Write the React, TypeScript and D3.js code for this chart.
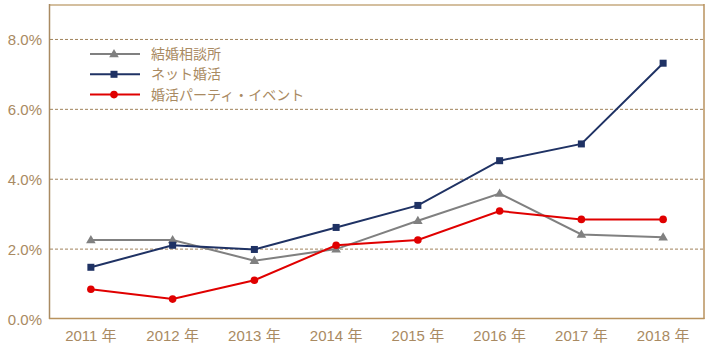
import React from "react";
import * as d3 from "d3";

const years = ["2011 年", "2012 年", "2013 年", "2014 年", "2015 年", "2016 年", "2017 年", "2018 年"];
const seriesNames = ["結婚相談所", "ネット婚活", "婚活パーティ・イベント"];
const soudansho = [2.26, 2.26, 1.67, 2.0, 2.81, 3.59, 2.42, 2.34];
const netKonkatsu = [1.48, 2.11, 1.99, 2.62, 3.25, 4.53, 5.01, 7.32];
const party = [0.85, 0.57, 1.11, 2.11, 2.26, 3.09, 2.85, 2.85];
const yTicks = [0, 2, 4, 6, 8];

const colors = ["#808080", "#1f3264", "#e00000"];
const markers = ["triangle", "square", "circle"];
const textColor = "#a98a62";
const font = "'Liberation Sans', Arial, 'Noto Sans CJK JP', sans-serif";

function Marker({ type, x, y, color }: { type: string; x: number; y: number; color: string }) {
  if (type === "square") return <rect x={x - 3.5} y={y - 3.5} width={7} height={7} fill={color} />;
  if (type === "circle") return <circle cx={x} cy={y} r={3.8} fill={color} />;
  const sym = d3.symbol(d3.symbolTriangle, 40)();
  return <path d={sym as string} transform={`translate(${x},${y + 0.5})`} fill={color} />;
}

export default function App() {
  const W = 710, H = 350;
  const left = 50, right = 704, top = 4.5, bottom = 319;
  const x = d3.scaleBand().domain(years).range([left, right]);
  const y = d3.scaleLinear().domain([0, 9]).range([bottom, top]);
  const data = [soudansho, netKonkatsu, party];
  const line = d3.line<number>().x((_, i) => (x(years[i]) as number) + x.bandwidth() / 2).y((d) => y(d));
  return (
    <svg width={W} height={H} style={{ position: "absolute", left: 0, top: 0 }} fontFamily={font}>
      {yTicks.filter((t) => t > 0).map((t) => (
        <line key={t} x1={left} x2={right} y1={y(t)} y2={y(t)} stroke="#a0825a" strokeWidth={1} strokeDasharray="3,2" />
      ))}
      <line x1={left} x2={right} y1={5} y2={5} stroke="#d4bf9f" strokeWidth={2} />
      <line x1={left - 0.5} x2={left - 0.5} y1={4} y2={bottom} stroke="#a98a62" strokeWidth={1.5} />
      <line x1={right} x2={right} y1={4} y2={bottom} stroke="#b8925e" strokeWidth={1.5} />
      <line x1={left - 1} x2={right + 0.5} y1={bottom - 0.5} y2={bottom - 0.5} stroke="#b8925e" strokeWidth={1.5} />
      {yTicks.map((t) => (
        <text key={t} x={42} y={y(t) + 0.5} dy="0.35em" textAnchor="end" fontSize={15} fill={textColor}>
          {t.toFixed(1)}%
        </text>
      ))}
      {years.map((yr) => (
        <text key={yr} x={(x(yr) as number) + x.bandwidth() / 2} y={341} textAnchor="middle" fontSize={15} fill={textColor}>
          {yr}
        </text>
      ))}
      {data.map((s, si) => (
        <g key={si}>
          <path d={line(s) as string} fill="none" stroke={colors[si]} strokeWidth={2} />
          {s.map((v, i) => (
            <Marker key={i} type={markers[si]} x={(x(years[i]) as number) + x.bandwidth() / 2} y={y(v)} color={colors[si]} />
          ))}
        </g>
      ))}
      {seriesNames.map((n, i) => {
        const ly = 54 + i * 20.3;
        return (
          <g key={n}>
            <line x1={90} x2={140} y1={ly} y2={ly} stroke={colors[i]} strokeWidth={2} />
            <Marker type={markers[i]} x={114} y={ly} color={colors[i]} />
            <text x={151} y={ly} dy="0.35em" fontSize={14} fill={textColor}>{n}</text>
          </g>
        );
      })}
    </svg>
  );
}
